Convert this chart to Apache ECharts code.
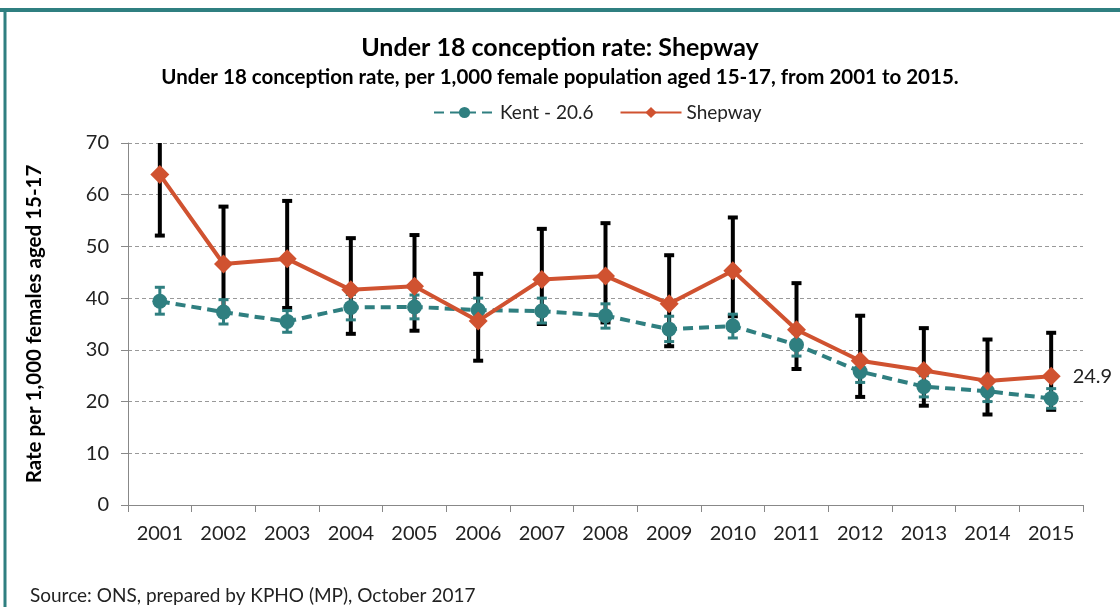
<!DOCTYPE html>
<html>
<head>
<meta charset="utf-8">
<title>Under 18 conception rate: Shepway</title>
<script src="https://cdn.jsdelivr.net/npm/echarts@6/dist/echarts.min.js"></script>
<style>
html, body { margin: 0; padding: 0; background: #fff; }
#chart { width: 1120px; height: 607px; }
</style>
</head>
<body>
<div id="chart"></div>
<script>
const years = ['2001', '2002', '2003', '2004', '2005', '2006', '2007', '2008',
  '2009', '2010', '2011', '2012', '2013', '2014', '2015'];

const shepwayRate = [63.9, 46.6, 47.6, 41.6, 42.3, 35.6, 43.6, 44.3, 38.9, 45.3, 33.9, 27.9, 26.0, 24.0, 24.9];
const shepwayLow = [52.1, 37.6, 38.1, 33.1, 33.7, 27.9, 35.0, 35.3, 30.7, 36.5, 26.3, 20.9, 19.2, 17.5, 18.4];
const shepwayHigh = [77.0, 57.7, 58.8, 51.6, 52.2, 44.7, 53.4, 54.5, 48.3, 55.6, 42.9, 36.6, 34.2, 32.0, 33.3];

const kentRate = [39.4, 37.3, 35.5, 38.2, 38.3, 37.7, 37.5, 36.6, 34.0, 34.6, 31.0, 25.8, 22.9, 22.0, 20.6];
const kentLow = [36.9, 35.0, 33.4, 35.8, 36.0, 35.3, 35.2, 34.2, 31.6, 32.3, 28.8, 23.7, 20.9, 20.0, 18.7];
const kentHigh = [42.1, 39.7, 37.6, 40.7, 40.6, 40.0, 40.0, 38.9, 36.5, 36.9, 33.3, 28.0, 25.0, 24.1, 22.5];

const yTicks = [0, 10, 20, 30, 40, 50, 60, 70];

const TEAL = '#2f7f80';
const ORANGE = '#d05230';
const FONT = 'Lato, "Open Sans", sans-serif';

// error bar: vertical line with a cap at each end
const errorBar = (color, width, capW) => (params, api) => {
  const x = api.value(0);
  const lo = api.coord([x, api.value(1)]);
  const hi = api.coord([x, api.value(2)]);
  const h = capW / 2;
  const style = { stroke: color, lineWidth: width };

  return {
    type: 'group',
    children: [
      { type: 'line', shape: { x1: lo[0], y1: lo[1], x2: hi[0], y2: hi[1] }, style },
      { type: 'line', shape: { x1: lo[0] - h, y1: lo[1], x2: lo[0] + h, y2: lo[1] }, style },
      { type: 'line', shape: { x1: hi[0] - h, y1: hi[1], x2: hi[0] + h, y2: hi[1] }, style },
    ],
  };
};

const toBars = (low, high) => low.map((v, i) => [i, v, high[i]]);

const chart = echarts.init(document.getElementById('chart'));

chart.setOption({
  animation: false,
  textStyle: { fontFamily: FONT },
  title: [
    {
      text: 'Under 18 conception rate: Shepway',
      left: 'center',
      top: 30,
      textStyle: { fontSize: 25, fontWeight: 'bold', color: '#000', fontFamily: FONT },
    },
    {
      text: 'Under 18 conception rate, per 1,000 female population aged 15-17, from 2001 to 2015.',
      left: 'center',
      top: 62,
      textStyle: { fontSize: 20.5, fontWeight: 'bold', color: '#000', fontFamily: FONT },
    },
    {
      text: 'Source: ONS, prepared by KPHO (MP), October 2017',
      left: 25,
      top: 581,
      textStyle: { fontSize: 19, fontWeight: 'normal', color: '#222', fontFamily: FONT },
    },
  ],
  legend: {
    data: ['Kent - 20.6', 'Shepway'],
    top: 98,
    left: 428,
    itemWidth: 61,
    itemHeight: 14,
    itemGap: 26,
    textStyle: { fontSize: 19, color: '#222' },
  },
  graphic: [
    { type: 'line', shape: { x1: 0, y1: 10, x2: 1120, y2: 10 }, style: { stroke: TEAL, lineWidth: 4 } },
    { type: 'line', shape: { x1: 5, y1: 10, x2: 5, y2: 607 }, style: { stroke: TEAL, lineWidth: 3 } },
  ],
  grid: {
    left: 128,
    right: 37,
    top: 143,
    bottom: 102,
  },
  xAxis: {
    type: 'category',
    data: years,
    axisLine: { lineStyle: { color: '#888', width: 1 } },
    axisTick: { show: true, length: 7, lineStyle: { color: '#888' } },
    axisLabel: { fontSize: 20, color: '#222', margin: 19 },
  },
  yAxis: {
    type: 'value',
    min: yTicks[0],
    max: yTicks[yTicks.length - 1],
    interval: 10,
    name: 'Rate per 1,000 females aged 15-17',
    nameLocation: 'middle',
    nameGap: 83,
    nameTextStyle: { fontSize: 20.5, fontWeight: 'bold', color: '#000' },
    axisLine: { show: true, lineStyle: { color: '#888', width: 1 } },
    axisTick: { show: true, length: 7, lineStyle: { color: '#888' } },
    axisLabel: { fontSize: 20, color: '#222', margin: 19 },
    splitLine: { lineStyle: { color: '#999', type: [4, 3], width: 1 } },
  },
  series: [
    {
      name: 'Shepway CI',
      type: 'custom',
      renderItem: errorBar('#000', 4, 10),
      encode: { x: 0, y: [1, 2] },
      data: toBars(shepwayLow, shepwayHigh),
      clip: true,
      z: 1,
    },
    {
      name: 'Kent CI',
      type: 'custom',
      renderItem: errorBar(TEAL, 3, 10),
      encode: { x: 0, y: [1, 2] },
      data: toBars(kentLow, kentHigh),
      clip: true,
      z: 2,
    },
    {
      name: 'Kent - 20.6',
      type: 'line',
      data: kentRate,
      symbol: 'circle',
      symbolSize: 15,
      itemStyle: { color: TEAL },
      lineStyle: { color: TEAL, width: 4, type: [10, 6] },
      z: 3,
    },
    {
      name: 'Shepway',
      type: 'line',
      data: shepwayRate,
      symbol: 'diamond',
      symbolSize: [19, 19],
      itemStyle: { color: ORANGE },
      lineStyle: { color: ORANGE, width: 4 },
      label: {
        show: true,
        position: 'right',
        distance: 12,
        fontSize: 20,
        color: '#222',
        formatter: (p) => (p.dataIndex === shepwayRate.length - 1 ? p.value.toFixed(1) : ''),
      },
      z: 4,
    },
  ],
});
</script>
</body>
</html>
